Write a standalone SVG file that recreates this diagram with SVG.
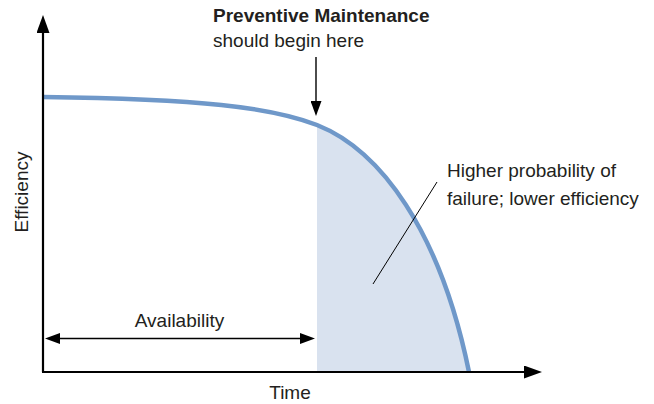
<svg xmlns="http://www.w3.org/2000/svg" width="654" height="404" viewBox="0 0 654 404">
  <style>
    .t { font-family: "Liberation Sans", Arial, sans-serif; font-size: 19px; fill: #231f20; }
    .b { font-weight: bold; }
    .axis { stroke: #000; stroke-width: 2.2; fill: none; }
    .thin { stroke: #000; stroke-width: 1.4; fill: none; }
    .leader { stroke: #000; stroke-width: 1; fill: none; }
    .curve { stroke: #6f98c9; stroke-width: 4.5; fill: none; }
    .shade { fill: #d9e2ef; stroke: none; }
  </style>
  <defs>
    <marker id="big" viewBox="0 0 18 13" refX="12" refY="6.5" markerWidth="18" markerHeight="13" markerUnits="userSpaceOnUse" orient="auto">
      <path d="M0,0 L18,6.5 L0,13 Z" fill="#000"/>
    </marker>
    <marker id="small" viewBox="0 0 15 11" refX="10" refY="5.5" markerWidth="15" markerHeight="11" markerUnits="userSpaceOnUse" orient="auto">
      <path d="M0,0 L15,5.5 L0,11 Z" fill="#000"/>
    </marker>
    <marker id="smallStart" viewBox="0 0 15 11" refX="5" refY="5.5" markerWidth="15" markerHeight="11" markerUnits="userSpaceOnUse" orient="auto">
      <path d="M15,0 L0,5.5 L15,11 Z" fill="#000"/>
    </marker>
  </defs>

  <g id="failure-region">
    <path class="shade" d="M317,125 C380,150 440,230 469,372 L317,372 Z"/>
  </g>

  <g id="efficiency-curve">
    <path class="curve" d="M43,97 C200,99 270,107 317,125 C380,150 440,230 469,372"/>
  </g>

  <g id="connectors">
    <line id="y-axis" class="axis" x1="43" y1="372" x2="43" y2="21" marker-end="url(#big)"/>
    <line id="x-axis" class="axis" x1="42" y1="372" x2="536" y2="372" marker-end="url(#big)"/>
    <line id="pm-arrow" class="thin" x1="316" y1="57" x2="316" y2="111" marker-end="url(#small)"/>
    <line id="availability-arrow" class="thin" x1="50" y1="338.5" x2="310" y2="338.5" marker-start="url(#smallStart)" marker-end="url(#small)"/>
    <line id="leader" class="leader" x1="437" y1="182" x2="373" y2="284"/>
  </g>

  <g id="pm-label">
    <text class="t b" x="213" y="22">Preventive Maintenance</text>
    <text class="t" x="213" y="47">should begin here</text>
  </g>

  <g id="failure-label">
    <text class="t" x="447" y="177">Higher probability of</text>
    <text class="t" x="447" y="205">failure; lower efficiency</text>
  </g>

  <g id="availability-label">
    <text class="t" x="179.5" y="327" text-anchor="middle">Availability</text>
  </g>

  <g id="time-label">
    <text class="t" x="290" y="398.5" text-anchor="middle">Time</text>
  </g>

  <g id="efficiency-label">
    <text class="t" x="0" y="0" text-anchor="middle" transform="translate(28,192) rotate(-90)">Efficiency</text>
  </g>
</svg>
